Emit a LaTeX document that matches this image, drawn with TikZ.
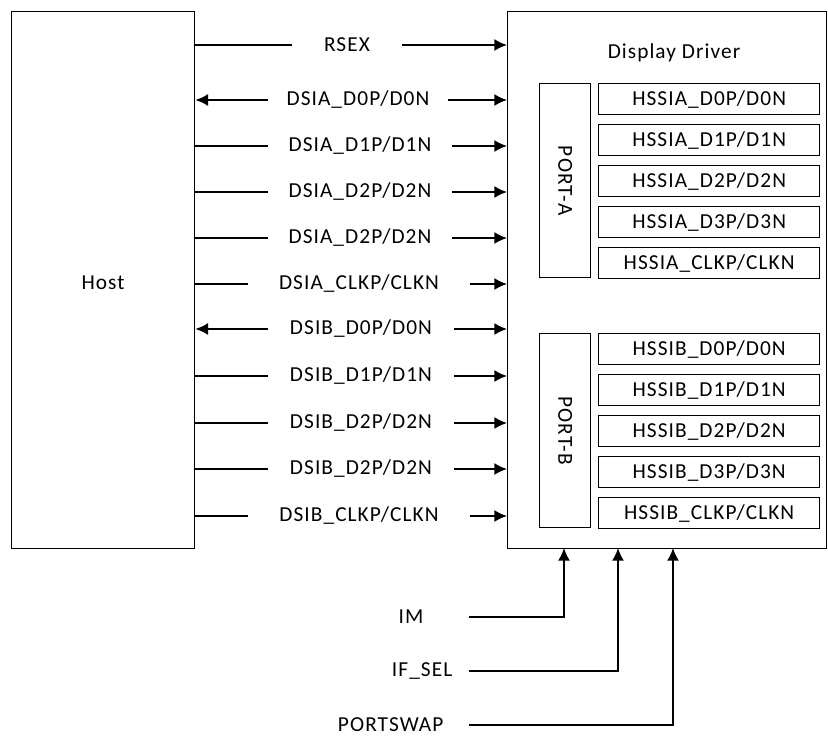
\documentclass[tikz,border=0pt]{standalone}
\usepackage{fontspec}
\setmainfont{Carlito}[LetterSpace=5]
\usetikzlibrary{arrows.meta}
\begin{document}
\begin{tikzpicture}[x=0.75pt,y=-0.75pt,
  font=\fontsize{16}{19}\selectfont,
  box/.style={draw, line width=1pt, inner sep=0pt},
  sig/.style={line width=1.3pt},
  tip/.style={-{Latex[length=9.5pt,width=9pt]}},
  tipb/.style={{Latex[length=9.5pt,width=9pt]}-},
  plain/.style={},
  lbl/.style={inner sep=0pt}]
\useasboundingbox (0,0) rectangle (828,738);
% main blocks
\node[box, anchor=north west, minimum width=137.25pt, minimum height=402.75pt] (host) at (11,11) {};
\node (hostlbl) at (103,283) {Host};
\node[box, anchor=north west, minimum width=239.25pt, minimum height=402.75pt] (drv) at (507,11) {};
\node (drvlbl) at (674,53) {Display Driver};
% ports
\node[box, anchor=north west, minimum width=38.25pt, minimum height=145.5pt] (porta) at (539,83) {};
\node[rotate=-90] (portalbl) at (porta.center) {PORT-A};
\node[box, anchor=north west, minimum width=38.25pt, minimum height=145.5pt] (portb) at (539,333) {};
\node[rotate=-90] (portblbl) at (portb.center) {PORT-B};
\foreach \i/\t in {0/{HSSIA\_D0P/D0N},1/{HSSIA\_D1P/D1N},2/{HSSIA\_D2P/D2N},3/{HSSIA\_D3P/D3N},4/{HSSIA\_CLKP/CLKN}}{
  \node[box, anchor=north west, minimum width=165.75pt, minimum height=23.25pt] (ha\i) at (598,83+41*\i) {\t};
}
\foreach \i/\t in {0/{HSSIB\_D0P/D0N},1/{HSSIB\_D1P/D1N},2/{HSSIB\_D2P/D2N},3/{HSSIB\_D3P/D3N},4/{HSSIB\_CLKP/CLKN}}{
  \node[box, anchor=north west, minimum width=165.75pt, minimum height=23.25pt] (hb\i) at (598,333+41*\i) {\t};
}
% host to driver signals
\foreach \n/\y/\t/\xl/\xr/\ls in {
  1/45/{RSEX}/292/402/plain,
  2/100/{DSIA\_D0P/D0N}/268/448/tipb,
  3/146/{DSIA\_D1P/D1N}/268/452/plain,
  4/192/{DSIA\_D2P/D2N}/268/452/plain,
  5/238/{DSIA\_D2P/D2N}/268/452/plain,
  6/284/{DSIA\_CLKP/CLKN}/248/470/plain,
  7/329/{DSIB\_D0P/D0N}/268/454/tipb,
  8/376/{DSIB\_D1P/D1N}/268/454/plain,
  9/423/{DSIB\_D2P/D2N}/268/454/plain,
  10/469/{DSIB\_D2P/D2N}/268/454/plain,
  11/516/{DSIB\_CLKP/CLKN}/248/470/plain}{
  \coordinate (gl\n) at (\xl,\y);
  \coordinate (gr\n) at (\xr,\y);
  \node (s\n) at ({(\xl+\xr)/2},\y) {\t};
  \draw[sig,\ls] (host.east |- gl\n) -- (gl\n);
  \draw[sig,tip] (gr\n) -- (drv.west |- gr\n);
}
% control signals
\node[anchor=east] (im) at (428,617) {IM};
\node[anchor=east] (ifsel) at (457,671) {IF\_SEL};
\node[anchor=east] (psw) at (448,725) {PORTSWAP};
\coordinate (imL) at (469,617);
\coordinate (ifL) at (469,671);
\coordinate (psL) at (469,725);
\coordinate (imT) at (564,548);
\coordinate (ifT) at (618,548);
\coordinate (psT) at (673,548);
\draw[sig,tip] (imL) -| (imT);
\draw[sig,tip] (ifL) -| (ifT);
\draw[sig,tip] (psL) -| (psT);
\end{tikzpicture}
\end{document}
